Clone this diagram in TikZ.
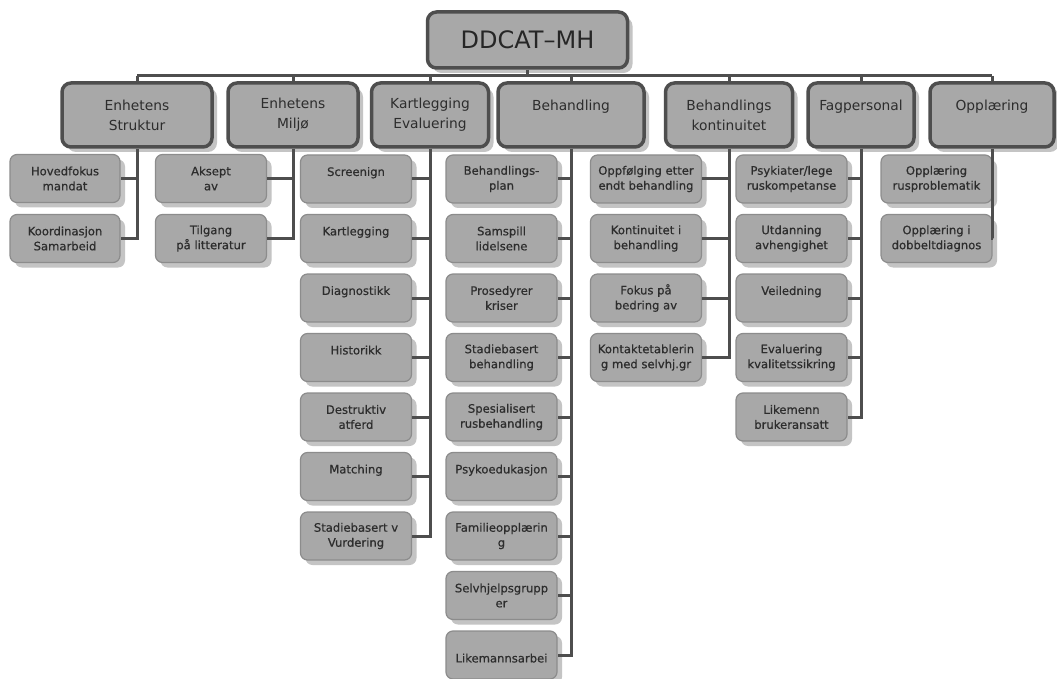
\documentclass[tikz,border=0pt]{standalone}
\usepackage{fontspec}
\setmainfont{DejaVu Sans}
\newfontfamily\punktfont{DejaVu Sans}[FakeBold=0.6]
\usetikzlibrary{shadows}
\definecolor{boksgraa}{RGB}{168,168,168}
\definecolor{kant}{RGB}{78,78,78}
\definecolor{skygge}{RGB}{196,196,196}
\definecolor{tekst}{RGB}{45,45,45}
\tikzset{skyggen/.style={drop shadow={shadow xshift=5pt,shadow yshift=-5pt,fill=skygge,opacity=1}},racine/.style={draw=kant,line width=3.5pt,rounded corners=9pt,fill=boksgraa,minimum width=200pt,minimum height=56pt,font=\fontsize{24}{28}\selectfont,text=black!85,skyggen},tema/.style={draw=kant,line width=3.5pt,rounded corners=9pt,fill=boksgraa,align=center,minimum height=64pt,font=\fontsize{13.8}{20}\selectfont,text=tekst,skyggen},punkt/.style={draw=black!45,line width=1.2pt,rounded corners=7pt,fill=boksgraa,align=center,minimum width=111pt,minimum height=48pt,font=\punktfont\fontsize{11.6}{15}\selectfont,text=tekst,skyggen},linje/.style={draw=kant,line width=3pt}}

\begin{document}
\begin{tikzpicture}[x=1pt,y=-1pt]
\useasboundingbox[fill=white] (0,0) rectangle (1057,679);
\node[racine] (ddcat) at (527.5,40) {DDCAT--MH};
\coordinate (buss) at (527.5,76);
\node[tema,minimum width=150pt] (struktur) at (137,115) {Enhetens\\Struktur};
\node[tema,minimum width=130pt] (miljo) at (293,115) {Enhetens\\Miljø};
\node[tema,minimum width=117pt] (kartl) at (430,115) {Kartlegging\\Evaluering};
\node[tema,minimum width=146pt] (behand) at (571,115) {Behandling\\\mbox{}};
\node[tema,minimum width=127pt] (kont) at (729,115) {Behandlings\\kontinuitet};
\node[tema,minimum width=106pt] (fag) at (861,115) {Fagpersonal\\\mbox{}};
\node[tema,minimum width=124pt] (oppl) at (992,115) {Opplæring\\\mbox{}};
% enhetens struktur og miljø
\node[punkt,minimum width=110pt] (s1) at (65,178.5) {Hovedfokus\\mandat};
\node[punkt,minimum width=110pt] (s2) at (65,238.5) {Koordinasjon\\Samarbeid};
\node[punkt] (m1) at (211,178.5) {Aksept\\av};
\node[punkt] (m2) at (211,238.5) {Tilgang\\på litteratur};
% kartlegging
\node[punkt] (k1) at (356,179) {Screenign\\\mbox{}};
\node[punkt] (k2) at (356,238.5) {Kartlegging\\\mbox{}};
\node[punkt] (k3) at (356,298) {Diagnostikk\\\mbox{}};
\node[punkt] (k4) at (356,357.5) {Historikk\\\mbox{}};
\node[punkt] (k5) at (356,417) {Destruktiv\\atferd};
\node[punkt] (k6) at (356,476.5) {Matching\\\mbox{}};
\node[punkt] (k7) at (356,536) {Stadiebasert v\\Vurdering};
% behandling
\node[punkt] (b1) at (501.5,179) {Behandlings-\\plan};
\node[punkt] (b2) at (501.5,238.5) {Samspill\\lidelsene};
\node[punkt] (b3) at (501.5,298) {Prosedyrer\\kriser};
\node[punkt] (b4) at (501.5,357.5) {Stadiebasert\\behandling};
\node[punkt] (b5) at (501.5,417) {Spesialisert\\rusbehandling};
\node[punkt] (b6) at (501.5,476.5) {Psykoedukasjon\\\mbox{}};
\node[punkt] (b7) at (501.5,536) {Familieopplærin\\g};
\node[punkt] (b8) at (501.5,595.5) {Selvhjelpsgrupp\\er};
\node[punkt] (b9) at (501.5,655) {\mbox{}\\Likemannsarbei};
% kontinuitet
\node[punkt] (c1) at (646,179) {Oppfølging etter\\endt behandling};
\node[punkt] (c2) at (646,238.5) {Kontinuitet i\\behandling};
\node[punkt] (c3) at (646,298) {Fokus på\\bedring av};
\node[punkt] (c4) at (646,357.5) {Kontaktetablerin\\g med selvhj.gr};
% fagpersonal
\node[punkt] (f1) at (791.5,179) {Psykiater/lege\\ruskompetanse};
\node[punkt] (f2) at (791.5,238.5) {Utdanning\\avhengighet};
\node[punkt] (f3) at (791.5,298) {Veiledning\\\mbox{}};
\node[punkt] (f4) at (791.5,357.5) {Evaluering\\kvalitetssikring};
\node[punkt] (f5) at (791.5,417) {Likemenn\\brukeransatt};
% opplæring
\node[punkt] (o1) at (936.5,179) {Opplæring\\rusproblematik};
\node[punkt] (o2) at (936.5,238.5) {Opplæring i\\dobbeltdiagnos};
% linjer
\draw[linje] (ddcat.south)--(buss) (struktur.north|-buss)--(oppl.north|-buss);
\draw[linje] (buss-|struktur.north)--(struktur.north) (buss-|miljo.north)--(miljo.north) (buss-|kartl.north)--(kartl.north) (buss-|behand.north)--(behand.north) (buss-|kont.north)--(kont.north) (buss-|fag.north)--(fag.north) (buss-|oppl.north)--(oppl.north);
\draw[linje] (struktur.south)|-(s1.east) (struktur.south)|-(s2.east);
\draw[linje] (miljo.south)|-(m1.east) (miljo.south)|-(m2.east);
\draw[linje] (kartl.south)|-(k1.east) (kartl.south)|-(k2.east) (kartl.south)|-(k3.east) (kartl.south)|-(k4.east) (kartl.south)|-(k5.east) (kartl.south)|-(k6.east) (kartl.south)|-(k7.east);
\draw[linje] (behand.south)|-(b1.east) (behand.south)|-(b2.east) (behand.south)|-(b3.east) (behand.south)|-(b4.east) (behand.south)|-(b5.east) (behand.south)|-(b6.east) (behand.south)|-(b7.east) (behand.south)|-(b8.east) (behand.south)|-(b9.east);
\draw[linje] (kont.south)|-(c1.east) (kont.south)|-(c2.east) (kont.south)|-(c3.east) (kont.south)|-(c4.east);
\draw[linje] (fag.south)|-(f1.east) (fag.south)|-(f2.east) (fag.south)|-(f3.east) (fag.south)|-(f4.east) (fag.south)|-(f5.east);
\draw[linje] (oppl.south)|-(o1.east) (oppl.south)|-(o2.east);
\end{tikzpicture}
\end{document}
